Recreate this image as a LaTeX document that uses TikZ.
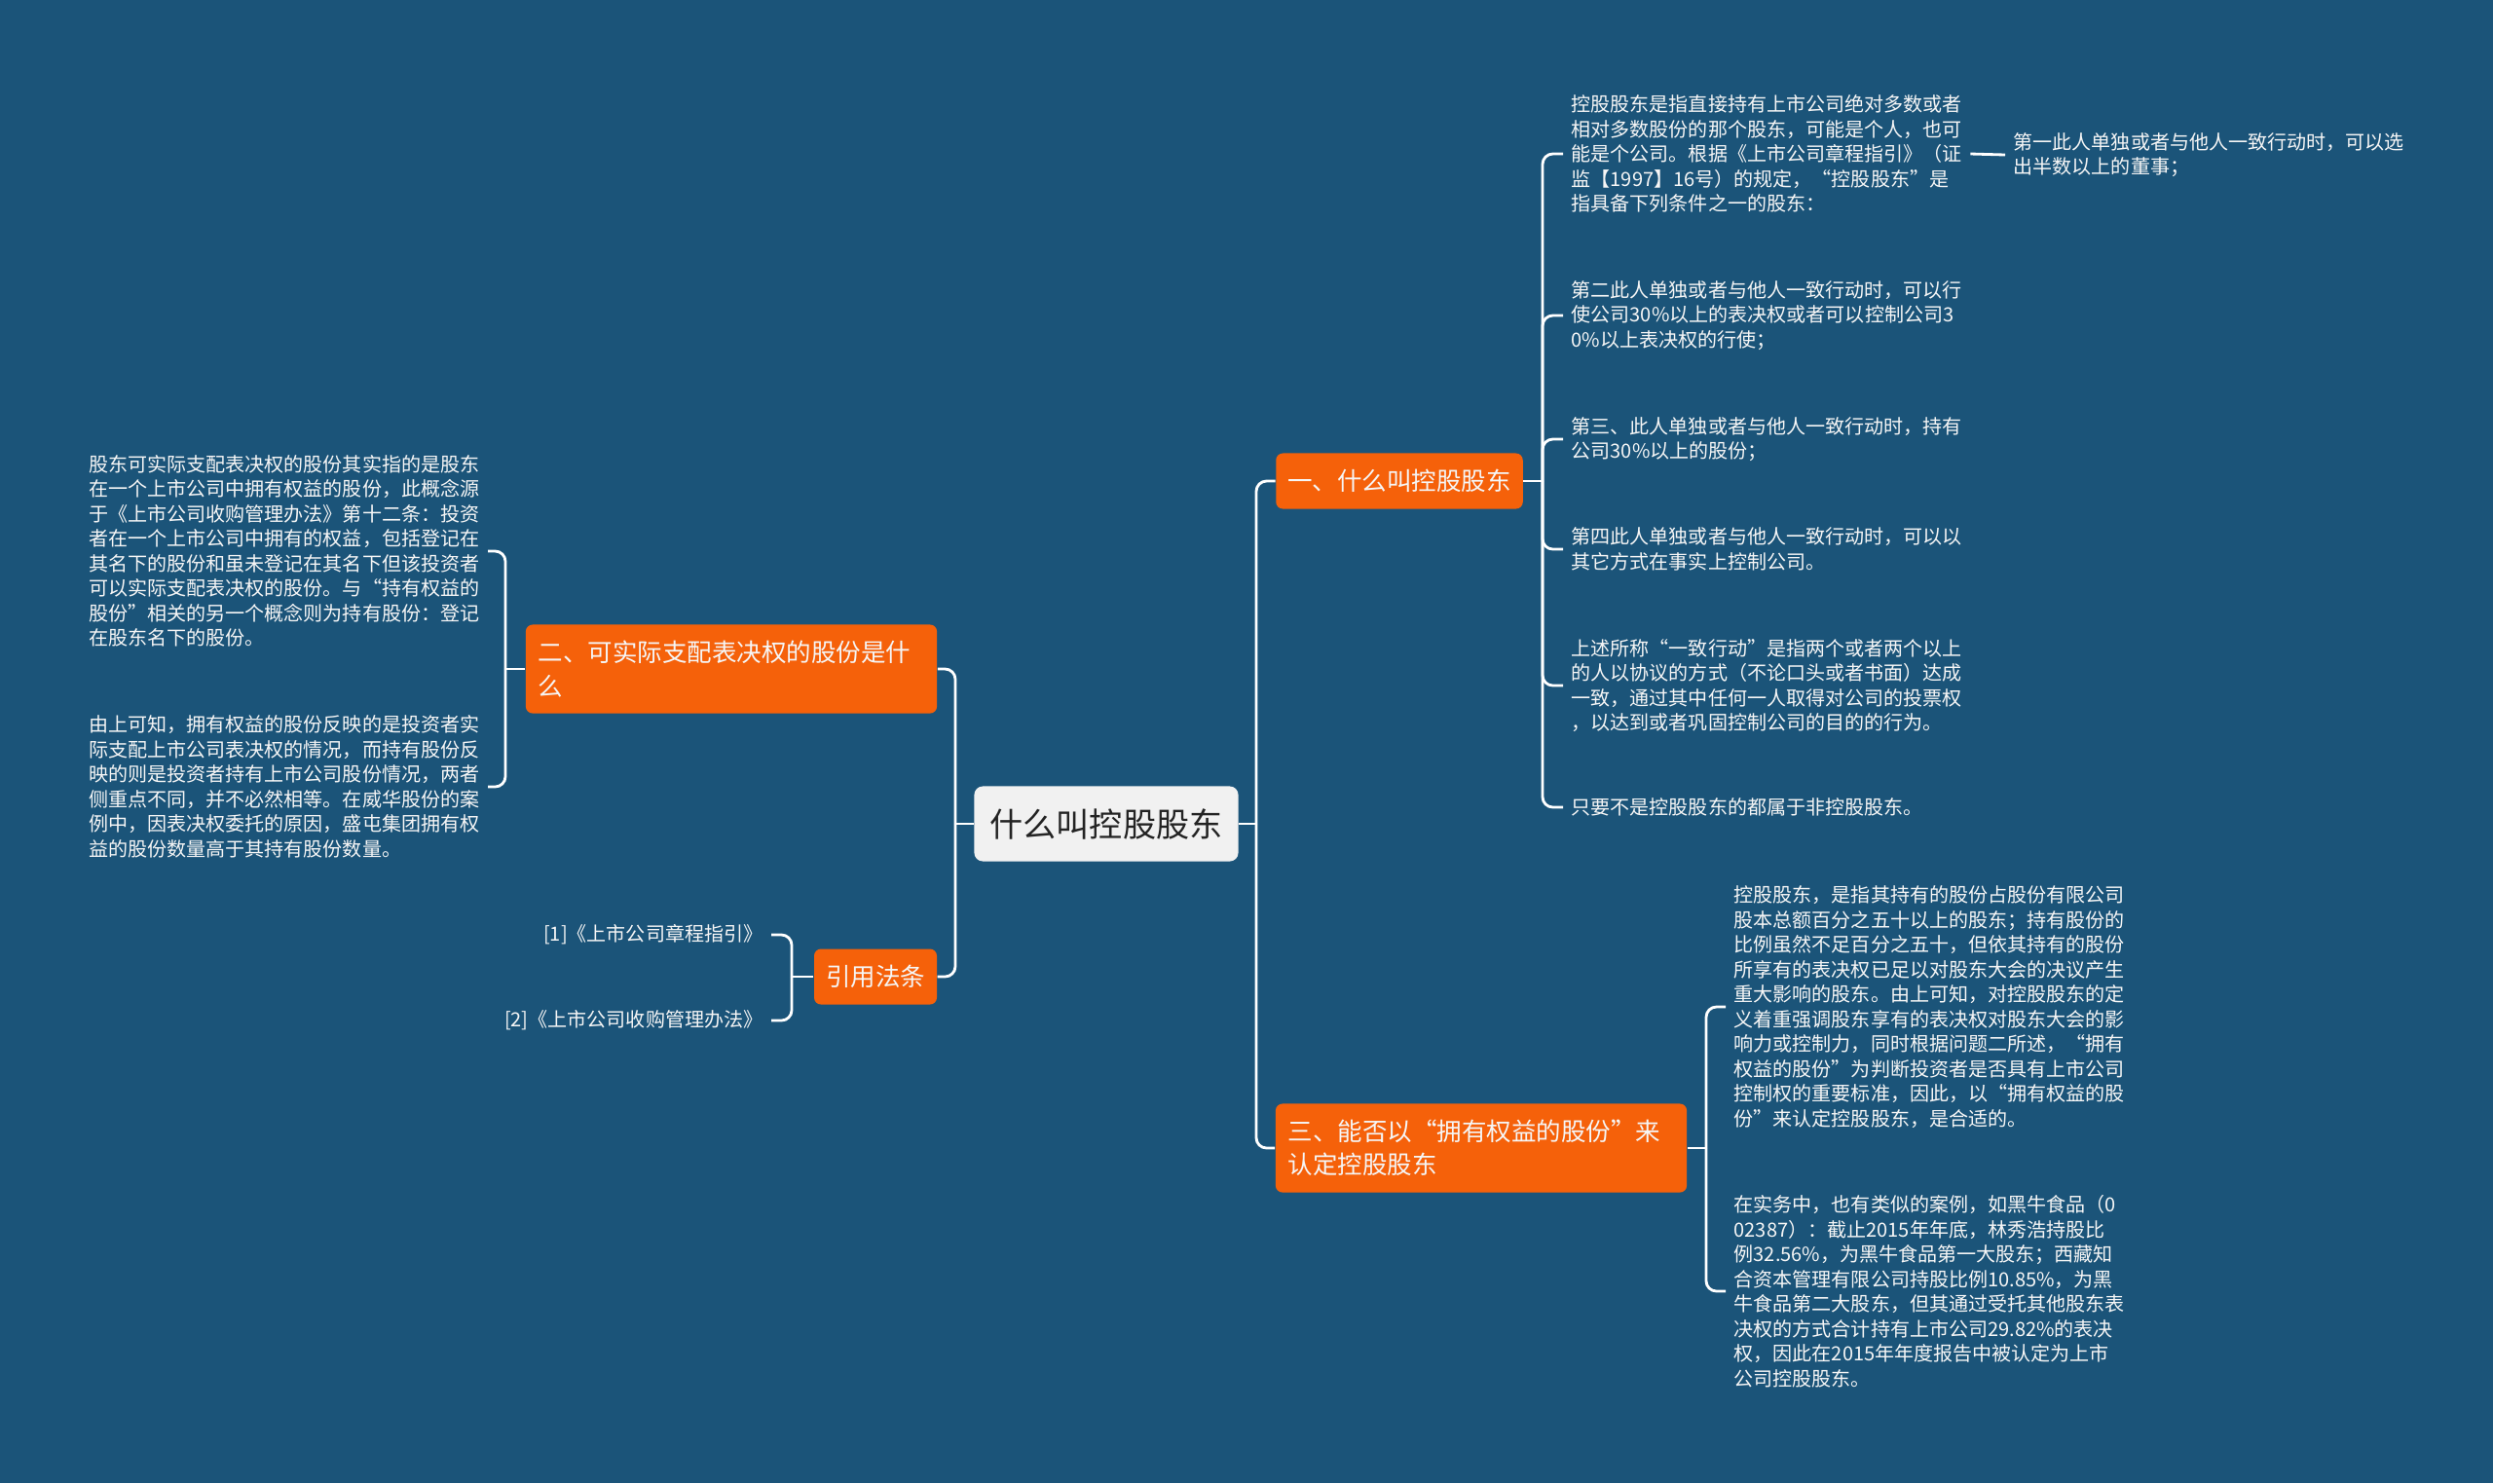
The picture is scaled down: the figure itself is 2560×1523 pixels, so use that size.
\documentclass[tikz,border=0pt]{standalone}
\usepackage{fontspec}
\setmainfont{Noto Sans CJK SC}
\usetikzlibrary{positioning}
\definecolor{deepsea}{RGB}{27,84,121}
\definecolor{tangerine}{RGB}{245,97,10}
\definecolor{paper}{RGB}{241,241,241}
\definecolor{ink}{RGB}{35,35,35}
\definecolor{chalk}{RGB}{246,246,246}

\begin{document}
\begin{tikzpicture}[x=0.01cm,y=-0.01cm,
    rootbox/.style={fill=paper,text=ink,rounded corners=2.5pt,minimum width=2.71cm,minimum height=0.77cm,font=\fontsize{9.7}{11}\selectfont},
    branch/.style={fill=tangerine,text=chalk,rounded corners=2pt,inner xsep=0.12cm,minimum height=0.57cm,font=\fontsize{7.25}{9.7}\selectfont},
    widebranch/.style={branch,text width=3.96cm,align=left,inner xsep=0.13cm,minimum height=0.91cm},
    leaf/.style={text=chalk,inner xsep=0.08cm,inner ysep=0pt,align=left,font=\fontsize{5.7}{7.25}\selectfont},
    link/.style={draw=white,line width=0.8pt,rounded corners=3pt}]
    \fill[deepsea] (0,0) rectangle (2560,1523);
    \useasboundingbox (0,0) rectangle (2560,1523);

    % centre and first level
    \node[rootbox] (root) at (1136,846) {什么叫控股股东};
    \node[branch] (q1) at (1437,494) {一、什么叫控股股东};
    \node[widebranch] (q2) at (751,687) {二、可实际支配表决权的股份是什\\么};
    \node[branch] (laws) at (899,1003) {引用法条};
    \node[widebranch] (q3) at (1521,1179) {三、能否以“拥有权益的股份”来\\认定控股股东};

    \coordinate (jr) at (1290,846);
    \coordinate (jl) at (981,846);
    \draw[link] (root.east) -- (jr);
    \draw[link] (jr) |- (q1.west);
    \draw[link] (jr) |- (q3.west);
    \draw[link] (root.west) -- (jl);
    \draw[link] (jl) |- (q2.east);
    \draw[link] (jl) |- (laws.east);

    % 一
    \coordinate (j1) at (1584,494);
    \draw[link] (q1.east) -- (j1);
    \foreach \y/\t [count=\i] in {
      158/{控股股东是指直接持有上市公司绝对多数或者\\相对多数股份的那个股东，可能是个人，也可\\能是个公司。根据《上市公司章程指引》（证\\监【1997】16号）的规定，“控股股东”是\\指具备下列条件之一的股东：},
      324/{第二此人单独或者与他人一致行动时，可以行\\使公司30\%以上的表决权或者可以控制公司3\\0\%以上表决权的行使；},
      451/{第三、此人单独或者与他人一致行动时，持有\\公司30\%以上的股份；},
      564/{第四此人单独或者与他人一致行动时，可以以\\其它方式在事实上控制公司。},
      704/{上述所称“一致行动”是指两个或者两个以上\\的人以协议的方式（不论口头或者书面）达成\\一致，通过其中任何一人取得对公司的投票权\\，以达到或者巩固控制公司的目的的行为。},
      829/{只要不是控股股东的都属于非控股股东。}}
    {
      \node[leaf,anchor=west] (a\i) at (1605,\y) {\t};
      \draw[link] (j1) |- (a\i.west);
    }
    \node[leaf,anchor=west] (a1x) at (2059,159) {第一此人单独或者与他人一致行动时，可以选\\出半数以上的董事；};
    \draw[link] (a1.east) -- (a1x.west);

    % 二
    \coordinate (j2) at (519,687);
    \draw[link] (q2.west) -- (j2);
    \foreach \y/\t [count=\i] in {
      566/{股东可实际支配表决权的股份其实指的是股东\\在一个上市公司中拥有权益的股份，此概念源\\于《上市公司收购管理办法》第十二条：投资\\者在一个上市公司中拥有的权益，包括登记在\\其名下的股份和虽未登记在其名下但该投资者\\可以实际支配表决权的股份。与“持有权益的\\股份”相关的另一个概念则为持有股份：登记\\在股东名下的股份。},
      808/{由上可知，拥有权益的股份反映的是投资者实\\际支配上市公司表决权的情况，而持有股份反\\映的则是投资者持有上市公司股份情况，两者\\侧重点不同，并不必然相等。在威华股份的案\\例中，因表决权委托的原因，盛屯集团拥有权\\益的股份数量高于其持有股份数量。}}
    {
      \node[leaf,anchor=east] (b\i) at (501,\y) {\t};
      \draw[link] (j2) |- (b\i.east);
    }

    % 引用法条
    \coordinate (j3) at (813,1003);
    \draw[link] (laws.west) -- (j3);
    \node[leaf,anchor=east,align=right] (r1) at (792,960) {[1]《上市公司章程指引》};
    \node[leaf,anchor=east,align=right] (r2) at (792,1048) {[2]《上市公司收购管理办法》};
    \draw[link] (j3) |- (r1.east);
    \draw[link] (j3) |- (r2.east);

    % 三
    \coordinate (j4) at (1752,1179);
    \draw[link] (q3.east) -- (j4);
    \foreach \y/\t [count=\i] in {
      1034/{控股股东，是指其持有的股份占股份有限公司\\股本总额百分之五十以上的股东；持有股份的\\比例虽然不足百分之五十，但依其持有的股份\\所享有的表决权已足以对股东大会的决议产生\\重大影响的股东。由上可知，对控股股东的定\\义着重强调股东享有的表决权对股东大会的影\\响力或控制力，同时根据问题二所述，“拥有\\权益的股份”为判断投资者是否具有上市公司\\控制权的重要标准，因此，以“拥有权益的股\\份”来认定控股股东，是合适的。},
      1326/{在实务中，也有类似的案例，如黑牛食品（0\\02387）：截止2015年年底，林秀浩持股比\\例32.56\%，为黑牛食品第一大股东；西藏知\\合资本管理有限公司持股比例10.85\%，为黑\\牛食品第二大股东，但其通过受托其他股东表\\决权的方式合计持有上市公司29.82\%的表决\\权，因此在2015年年度报告中被认定为上市\\公司控股股东。}}
    {
      \node[leaf,anchor=west] (t\i) at (1772,\y) {\t};
      \draw[link] (j4) |- (t\i.west);
    }
\end{tikzpicture}
\end{document}
